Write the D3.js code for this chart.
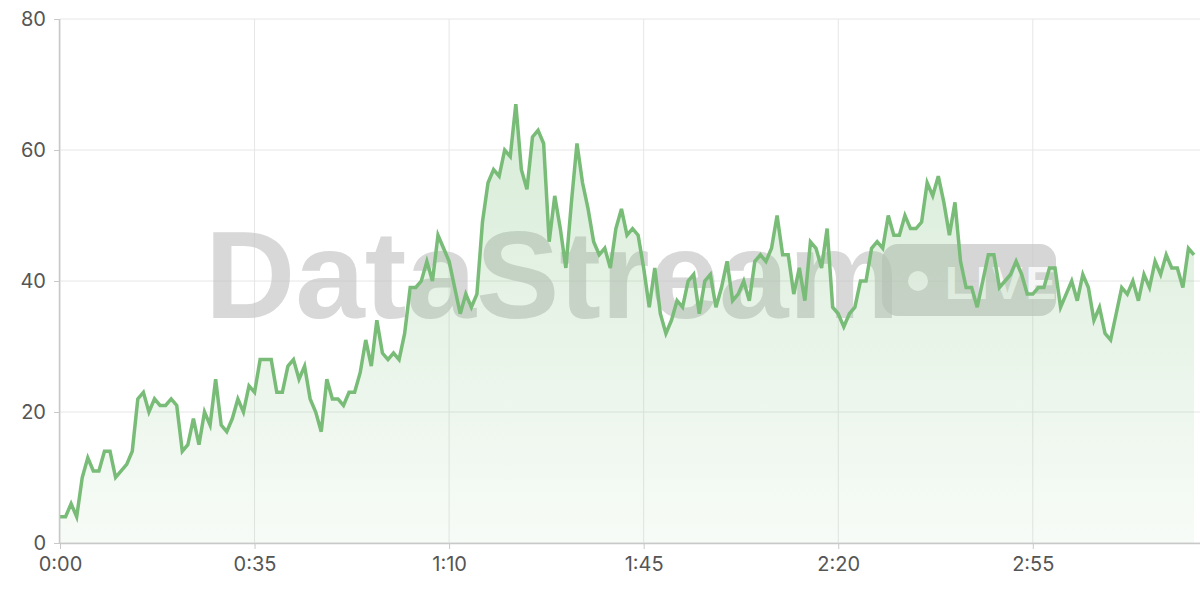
<!DOCTYPE html>
<html><head><meta charset="utf-8">
<script src="https://cdn.jsdelivr.net/npm/d3@7/dist/d3.min.js"></script>
<style>
html,body{margin:0;padding:0;background:#fff;}
svg{display:block;font-family:"Inter","Noto Sans",sans-serif;}
</style></head>
<body><svg id="chart" width="1200" height="600"></svg>
<script>
const values = [4,4,6,4,10,13,11,11,14,14,10,11,12,14,22,23,20,22,21,21,
22,21,14,15,19,15,20,18,25,18,17,19,22,20,24,23,28,28,28,23,
23,27,28,25,27,22,20,17,25,22,22,21,23,23,26,31,27,34,29,28,
29,28,32,39,39,40,43,40,47,45,43,39,35,38,36,38,49,55,57,56,
60,59,67,57,54,62,63,61,46,53,48,42,52,61,55,51,46,44,45,42,
48,51,47,48,47,42,36,42,35,32,34,37,36,40,41,35,40,41,36,39,
43,37,38,40,37,43,44,43,45,50,44,44,38,42,37,46,45,42,48,36,
35,33,35,36,40,40,45,46,45,50,47,47,50,48,48,49,55,53,56,52,
47,52,43,39,39,36,40,44,44,39,40,41,43,41,38,38,39,39,42,42,
36,38,40,37,41,39,34,36,32,31,35,39,38,40,37,41,39,43,41,44,
42,42,39,45,44];
const seconds = values.map((v,i)=>i);
const xTicks = [0,35,70,105,140,175];
const yTicks = [0,20,40,60,80];
const fmt = s => Math.floor(s/60)+":"+String(s%60).padStart(2,"0");

const svg = d3.select("#chart");
const x = d3.scaleLinear().domain([0, 204]).range([60, 1194]);
const y = d3.scaleLinear().domain([0, 80]).range([543, 19]);

// grid
svg.append("g").selectAll("line").data(yTicks).join("line")
  .attr("x1",60).attr("x2",1200).attr("y1",d=>y(d)).attr("y2",d=>y(d))
  .attr("stroke","#e6e6e6").attr("stroke-width",1);
svg.append("g").selectAll("line").data(xTicks).join("line")
  .attr("x1",d=>x(d)).attr("x2",d=>x(d)).attr("y1",19).attr("y2",543)
  .attr("stroke","#e6e6e6").attr("stroke-width",1);

// watermark
const wm = svg.append("g");
wm.append("rect").attr("x",882).attr("y",244).attr("width",174).attr("height",72).attr("rx",16)
  .attr("fill","#c4c4c4").attr("opacity",0.7);
wm.append("text").attr("x",205).attr("y",318).text("DataStream")
  .attr("font-family","Liberation Sans, Arial, sans-serif").attr("font-weight","bold")
  .attr("font-size",125).attr("fill","#c4c4c4").attr("opacity",0.65);
wm.append("circle").attr("cx",918).attr("cy",281).attr("r",10).attr("fill","#fff").attr("opacity",0.8);
wm.append("text").attr("x",945).attr("y",299).text("LIVE")
  .attr("font-family","Liberation Sans, Arial, sans-serif").attr("font-weight","bold")
  .attr("font-size",46).attr("letter-spacing",3).attr("fill","#fff").attr("opacity",0.8);

// gradient
const defs = svg.append("defs");
const grad = defs.append("linearGradient").attr("id","g").attr("gradientUnits","userSpaceOnUse")
  .attr("x1",0).attr("x2",0).attr("y1",100).attr("y2",543);
grad.append("stop").attr("offset","0%").attr("stop-color","#7bbf7b").attr("stop-opacity",0.3);
grad.append("stop").attr("offset","100%").attr("stop-color","#7bbf7b").attr("stop-opacity",0.06);

const area = d3.area().x((d,i)=>x(seconds[i])).y0(y(0)).y1(d=>y(d));
const line = d3.line().x((d,i)=>x(seconds[i])).y(d=>y(d));
svg.append("path").datum(values).attr("d",area).attr("fill","url(#g)");
svg.append("path").datum(values).attr("d",line).attr("fill","none")
  .attr("stroke","#78bc78").attr("stroke-width",3.5).attr("stroke-linejoin","miter");

// axes
svg.append("line").attr("x1",60).attr("x2",1200).attr("y1",543.5).attr("y2",543.5).attr("stroke","#c8c8c8").attr("stroke-width",1.5);
svg.append("line").attr("x1",59.5).attr("x2",59.5).attr("y1",19).attr("y2",543).attr("stroke","#c8c8c8").attr("stroke-width",1.5);

const xAxis = d3.axisBottom(x).tickValues(xTicks).tickFormat(fmt).tickSize(6).tickPadding(8);
const gx = svg.append("g").attr("transform","translate(0,543)").call(xAxis);
gx.select(".domain").remove();
gx.selectAll(".tick line").attr("stroke","#c8c8c8");
gx.selectAll("text").attr("font-size",20).attr("fill","#555").attr("font-family","Inter, Noto Sans, sans-serif");

const yAxis = d3.axisLeft(y).tickValues(yTicks).tickSize(6).tickPadding(8);
const gy = svg.append("g").attr("transform","translate(60,0)").call(yAxis);
gy.select(".domain").remove();
gy.selectAll(".tick line").attr("stroke","#c8c8c8");
gy.selectAll("text").attr("font-size",20).attr("fill","#555").attr("font-family","Inter, Noto Sans, sans-serif");
</script></body></html>
